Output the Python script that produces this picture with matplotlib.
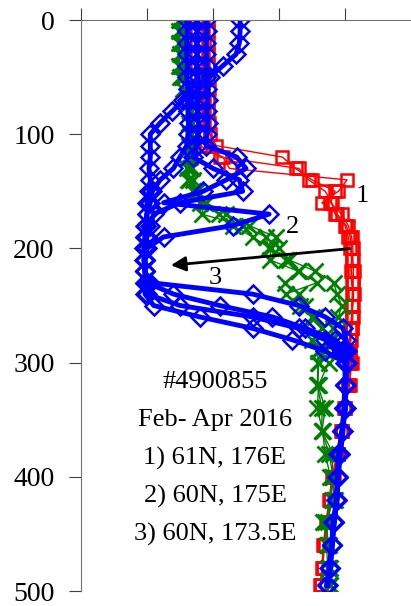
import numpy as np
import matplotlib
matplotlib.use("Agg")
import matplotlib.pyplot as plt

plt.rcParams['font.family'] = ['Liberation Serif', 'DejaVu Serif']

# depth levels (dbar) shared by all profiles
depth = [0, 10, 20, 30, 40, 50, 60, 70, 80, 90, 100, 110, 120, 130, 140, 150,
         160, 170, 180, 190, 200, 210, 220, 230, 240, 250, 260, 270, 280, 290,
         300, 320, 340, 360, 380, 400, 420, 440, 460, 480, 495]

# float 1 (red squares)
red_1 = [-0.08, -0.07, -0.08, -0.08, -0.07, -0.08, -0.06, -0.07, -0.07, -0.06, -0.05,
         0.05, 1.05, 1.25, 1.5, 1.85, 1.78, 1.95, 2.05, 2.1, 2.12, 2.12, 2.13, 2.12,
         2.13, 2.12, 2.1, 2.1, 2.08, 2.08,
         2.1, 2.07, 2.0, 1.95, 1.88, 1.8, 1.76, 1.71, 1.67, 1.65, 1.63]
red_2 = [-0.25, -0.24, -0.25, -0.25, -0.24, -0.25, -0.24, -0.25, -0.24, -0.23, -0.22,
         -0.2, 0.15, 0.25, 2.03, 1.9, 1.65, 1.88, 2.02, 2.08, 2.1, 2.11, 2.1, 2.12,
         2.11, 2.1, 2.12, 2.1, 2.09, 2.07,
         2.08, 2.05, 2.0, 1.96, 1.9, 1.82, 1.77, 1.72, 1.68, 1.66, 1.62]
red_3 = [-0.15, -0.15, -0.14, -0.15, -0.15, -0.14, -0.15, -0.14, -0.13, -0.14, -0.12,
         -0.1, 0.1, 1.3, 1.45, 1.7, 1.8, 1.85, 2.0, 2.05, 2.08, 2.1, 2.09, 2.1,
         2.12, 2.11, 2.1, 2.08, 2.07, 2.06,
         2.06, 2.04, 1.98, 1.94, 1.89, 1.83, 1.78, 1.73, 1.69, 1.66, 1.64]

# float 2 (green crosses)
green_1 = [-0.48, -0.49, -0.48, -0.47, -0.48, -0.47, -0.45, -0.36, -0.35, -0.35, -0.34,
           -0.35, -0.35, -0.32, -0.3, -0.25, -0.1, 0.2, 0.55, 0.95, 1.0, 1.15, 1.55,
           1.83, 1.88, 1.95, 1.9, 1.82, 1.77, 1.7,
           1.6, 1.59, 1.7, 1.65, 1.82, 1.8, 1.85, 1.67, 1.74, 1.77, 1.78]
green_2 = [-0.52, -0.51, -0.52, -0.5, -0.51, -0.5, -0.34, -0.33, -0.33, -0.32, -0.33,
           -0.33, -0.38, -0.35, -0.36, -0.3, -0.12, -0.17, 0.45, 0.8, 0.85, 1.1, 1.3,
           1.09, 1.3, 1.4, 1.55, 1.65, 1.8, 1.6,
           1.75, 1.6, 1.58, 1.66, 1.7, 1.78, 1.8, 1.74, 1.72, 1.74, 1.76]
green_3 = [-0.45, -0.46, -0.45, -0.46, -0.45, -0.44, -0.36, -0.36, -0.35, -0.36, -0.35,
           -0.36, -0.37, -0.4, -0.38, -0.3, -0.2, 0.09, 0.3, 0.6, 0.88, 0.86, 1.29,
           1.58, 1.1, 1.32, 1.5, 1.65, 1.5, 1.59,
           1.59, 1.58, 1.65, 1.65, 1.76, 1.82, 1.83, 1.7, 1.76, 1.75, 1.77]

# float 3 (blue diamonds)
blue_1 = [0.41, 0.41, 0.4, 0.35, 0.15, -0.05, -0.2, -0.45, -0.62, -0.8, -0.95,
          -0.95, -0.95, -0.97, -0.95, -0.97, -1.0, -1.0, -1.02, -1.03, -1.03, -1.05,
          -1.03, -0.95, 0.6, 1.3, 1.7, 1.97, 2.02, 2.03,
          2.03, 2.0, 2.0, 1.96, 1.9, 1.89, 1.88, 1.83, 1.81, 1.77, 1.73]
blue_2 = [-0.4, -0.39, -0.4, -0.4, -0.39, -0.4, -0.38, -0.39, -0.38, -0.37, -0.38,
          -0.4, -0.5, -0.6, -0.8, -0.92, -0.95, -1.0, -1.03, -1.03, -1.05, -1.03,
          -1.03, -1.0, -0.6, 0.1, 0.9, 1.4, 1.85, 2.0,
          2.02, 2.01, 1.99, 1.95, 1.91, 1.88, 1.87, 1.84, 1.8, 1.76, 1.74]
blue_3 = [-0.25, -0.24, -0.25, -0.24, -0.25, -0.23, -0.24, -0.23, -0.24, -0.22, -0.23,
          -0.25, -0.3, 0.0, 0.4, 0.45, -0.5, -0.9, -0.95, -1.0, -1.03, -1.03, -1.03,
          -1.03, -1.03, -0.9, -0.2, 0.6, 1.2, 1.7,
          2.0, 2.0, 2.01, 1.96, 1.92, 1.9, 1.87, 1.82, 1.8, 1.78, 1.73]
blue_4 = [-0.1, -0.09, -0.1, -0.1, -0.09, -0.1, -0.09, -0.08, -0.09, -0.08, -0.09,
          -0.1, 0.36, 0.5, 0.2, -0.15, -0.75, 0.85, 0.3, -0.75, -1.0, -1.03, -1.03,
          -1.03, -1.0, -0.5, 0.6, 1.3, 1.7, 1.95,
          2.03, 2.0, 1.98, 1.97, 1.93, 1.89, 1.88, 1.83, 1.8, 1.77, 1.72]

notes = ["#4900855", "Feb- Apr 2016", "1) 61N, 176E", "2) 60N, 175E", "3) 60N, 173.5E"]

fig = plt.figure(figsize=(4.11, 6.06), dpi=100)
ax = fig.add_axes([81 / 411, 15 / 606, 330 / 411, 571 / 606])

for t in [red_1, red_2, red_3]:
    ax.plot(t, depth, color='red', lw=1, marker='s', ms=9, mfc='none', mec='red', mew=1.8)
for t in [green_1, green_2, green_3]:
    ax.plot(t, depth, color='green', lw=1, marker='x', ms=11, mew=2)
for t in [blue_1, blue_2, blue_3, blue_4]:
    ax.plot(t, depth, color='blue', lw=3.5, marker='D', ms=9.5, mfc='none', mec='blue', mew=1.8)

ax.set_xlim(-2, 3)
ax.set_ylim(500, 0)
ax.set_xticks([-2, -1, 0, 1, 2])
ax.set_yticks([0, 100, 200, 300, 400, 500])
ax.xaxis.tick_top()
ax.tick_params(axis='x', direction='out', length=9, labeltop=False, color='#404040')
ax.tick_params(axis='y', direction='out', length=9, pad=10, labelsize=20, color='#404040')
ax.spines['right'].set_visible(False)
ax.spines['bottom'].set_visible(False)
ax.spines['top'].set_color('#707070')
ax.spines['left'].set_color('#707070')

# profile labels and arrow
ax.text(2.26, 154, "1", fontsize=19, ha='center', va='center')
ax.text(1.2, 181, "2", fontsize=19, ha='center', va='center')
ax.text(0.03, 226, "3", fontsize=19, ha='center', va='center')
ax.annotate("", xy=(-0.68, 215), xytext=(2.11, 200),
            arrowprops=dict(arrowstyle='-|>', color='black', lw=2, mutation_scale=22))

for i, s in enumerate(notes):
    ax.text(0.03, 317 + 33.3 * i, s, fontsize=19, ha='center', va='center')

fig.savefig("out.png", dpi=100)
